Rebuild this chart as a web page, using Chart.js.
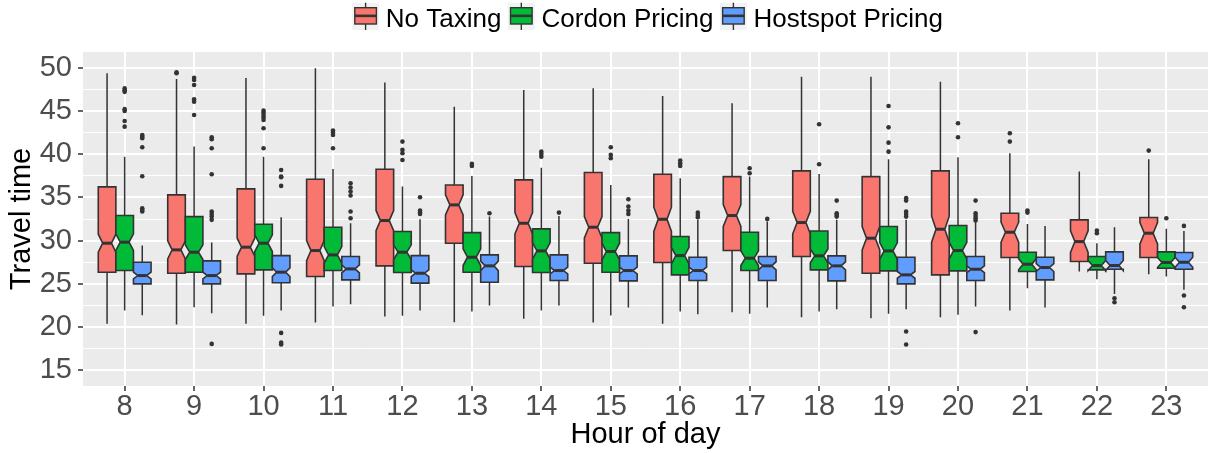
<!DOCTYPE html>
<html><head><meta charset="utf-8">
<script src="https://cdn.jsdelivr.net/npm/chart.js@4.4.1/dist/chart.umd.min.js"></script>
<style>html,body{margin:0;padding:0;background:#fff;}canvas{display:block;}</style>
</head><body>
<canvas id="c" width="1208" height="453"></canvas>
<script>
const HOURS = ['8','9','10','11','12','13','14','15','16','17','18','19','20','21','22','23'];
const SERIES_NAMES = ['No Taxing', 'Cordon Pricing', 'Hostspot Pricing'];
const SERIES_COLORS = ['#F8766D', '#00BA38', '#619CFF'];
const Y_TICKS = [15, 20, 25, 30, 35, 40, 45, 50];
const Y_MINOR = [17.5, 22.5, 27.5, 32.5, 37.5, 42.5, 47.5];

// No Taxing
const NT_LOW   = [20.38,20.30,20.38,20.53,21.23,20.57,20.96,20.53,20.38,21.73,21.15,21.03,21.15,21.92,26.43,26.12];
const NT_Q1    = [26.35,26.23,26.16,25.85,27.08,29.70,27.00,27.39,27.47,28.85,28.16,26.23,26.04,28.04,27.58,28.04];
const NT_MED   = [29.70,28.93,29.24,28.85,32.32,34.13,32.01,31.55,32.47,32.90,32.09,30.28,31.32,30.97,29.89,30.86];
const NT_Q3    = [36.21,35.29,35.98,37.10,38.25,36.44,37.02,37.87,37.67,37.40,38.06,37.40,38.06,33.17,32.40,32.67];
const NT_HIGH  = [49.35,48.69,48.81,49.92,48.27,45.49,47.42,47.61,46.73,45.88,48.96,48.96,48.38,40.10,37.98,39.41];
const NT_NOTCH = [1.04,1.04,1.04,1.16,1.16,1.16,1.23,1.23,1.40,1.27,1.30,1.35,1.50,1.16,1.25,1.23];
const NT_OUT   = [[],[49.46,49.35],[],[],[],[],[],[],[],[],[],[],[],[42.41,41.45],[],[40.41]];

// Cordon Pricing
const CP_LOW   = [21.92,22.30,21.30,22.38,21.30,21.80,21.92,21.34,21.80,21.53,21.80,21.53,21.42,24.50,25.54,25.85];
const CP_Q1    = [26.54,26.35,26.62,26.54,26.31,26.35,26.31,26.35,26.04,26.54,26.62,26.50,26.50,26.43,26.62,26.81];
const CP_MED   = [29.82,28.66,29.70,28.35,28.66,28.08,28.81,28.74,28.27,27.97,28.24,28.81,28.85,27.27,27.12,27.47];
const CP_Q3    = [32.90,32.78,31.90,31.55,31.05,30.93,31.36,30.93,30.47,30.97,31.12,31.63,31.74,28.66,28.16,28.70];
const CP_HIGH  = [39.71,40.87,39.71,38.29,36.25,37.48,38.44,36.44,37.21,37.40,37.71,39.41,39.64,31.93,29.70,31.36];
const CP_NOTCH = [0.96,0.85,0.96,0.96,0.85,0.96,0.96,0.96,0.96,0.85,0.80,0.96,0.96,0.65,0.58,0.58];
const CP_OUT   = [
  [47.6,47.4,47.2,45.2,45.0,43.84,43.18],
  [48.84,48.57,48.0,46.34,46.07,44.53],
  [45.03,44.8,44.53,44.26,43.95,42.99,40.68],
  [42.72,42.49,42.22,40.68],
  [41.45,40.49,40.1,39.33],
  [38.87,38.64],
  [40.29,40.02,39.71],
  [40.79,39.91,39.52],
  [39.25,38.94,38.64],
  [38.37,37.79],
  [43.45,38.83],
  [45.57,43.10,41.33,40.29],
  [43.57,41.95],
  [33.47,33.24],
  [31.16,30.86],
  [32.59]
];

// Hostspot Pricing
const HP_LOW   = [21.38,21.61,21.92,22.65,21.92,22.50,22.50,22.27,21.49,22.27,22.07,22.07,22.38,22.27,23.84,24.31];
const HP_Q1    = [25.00,25.00,25.12,25.46,25.08,25.19,25.39,25.35,25.39,25.39,25.35,25.00,25.39,25.46,26.69,26.69];
const HP_MED   = [25.96,25.96,26.35,26.73,26.23,27.08,26.54,26.54,26.54,27.08,27.08,26.04,26.69,26.89,27.12,27.50];
const HP_Q3    = [27.50,27.66,28.27,28.16,28.27,28.35,28.35,28.24,28.08,28.16,28.24,28.08,28.16,28.08,28.70,28.62];
const HP_HIGH  = [29.43,29.78,32.70,32.01,32.47,32.78,32.86,32.51,32.40,32.20,32.40,32.40,32.40,31.70,31.55,31.12];
const HP_NOTCH = [0.39,0.39,0.50,0.46,0.39,0.55,0.39,0.39,0.39,0.46,0.46,0.39,0.39,0.46,0.58,0.58];
const HP_OUT   = [
  [42.22,42.03,41.83,40.79,37.44,33.74,33.55,33.36],
  [41.95,41.72,40.68,37.67,33.36,33.09,32.78,32.40,18.06],
  [38.17,37.40,37.33,36.33,19.33,18.2,18.0],
  [36.63,36.13,35.67,35.21,33.36,32.59],
  [35.02,33.47,33.24,33.09],
  [33.17],
  [33.24],
  [34.78,33.94,33.47,33.09],
  [33.24,32.97,32.70],
  [32.51],
  [34.63,33.17,32.97,32.78],
  [34.91,34.63,33.36,33.09,32.78,19.49,17.98],
  [34.63,33.17,32.86,32.59,32.32,19.42],
  [],
  [23.34,22.88],
  [31.70,23.65,22.30]
];

const SERIES = [
  {low: NT_LOW, q1: NT_Q1, med: NT_MED, q3: NT_Q3, high: NT_HIGH, notch: NT_NOTCH, out: NT_OUT},
  {low: CP_LOW, q1: CP_Q1, med: CP_MED, q3: CP_Q3, high: CP_HIGH, notch: CP_NOTCH, out: CP_OUT},
  {low: HP_LOW, q1: HP_Q1, med: HP_MED, q3: HP_Q3, high: HP_HIGH, notch: HP_NOTCH, out: HP_OUT}
];

const FONT = '"Liberation Sans", Arial, Helvetica, sans-serif';
Chart.defaults.font.family = FONT;
const LINE = '#333333';

const boxPlugin = {
  id: 'boxplots',
  beforeDraw(chart) {
    const {ctx, chartArea: a} = chart;
    ctx.save();
    ctx.fillStyle = '#FFFFFF';
    ctx.fillRect(0, 0, chart.width, chart.height);
    ctx.fillStyle = '#EBEBEB';
    ctx.fillRect(a.left, a.top, a.right - a.left, a.bottom - a.top);
    ctx.restore();
  },
  afterDatasetsDraw(chart) {
    const ctx = chart.ctx;
    const ys = chart.scales.y;
    const P = v => ys.getPixelForValue(v);
    ctx.save();
    SERIES.forEach((s, di) => {
      const meta = chart.getDatasetMeta(di);
      meta.data.forEach((bar, i) => {
        const {x, width} = bar.getProps(['x', 'width'], true);
        const l = x - width / 2, r = x + width / 2, ins = width * 0.25;
        const yq1 = P(s.q1[i]), yq3 = P(s.q3[i]), ym = P(s.med[i]);
        const yn1 = P(s.med[i] - s.notch[i]), yn2 = P(s.med[i] + s.notch[i]);
        ctx.strokeStyle = LINE; ctx.lineWidth = 1.5; ctx.lineCap = 'butt';
        ctx.beginPath();
        ctx.moveTo(x, yq3); ctx.lineTo(x, P(s.high[i]));
        ctx.moveTo(x, yq1); ctx.lineTo(x, P(s.low[i]));
        ctx.stroke();
        ctx.beginPath();
        ctx.moveTo(l, yq3); ctx.lineTo(r, yq3); ctx.lineTo(r, yn2);
        ctx.lineTo(r - ins, ym); ctx.lineTo(r, yn1); ctx.lineTo(r, yq1);
        ctx.lineTo(l, yq1); ctx.lineTo(l, yn1); ctx.lineTo(l + ins, ym);
        ctx.lineTo(l, yn2); ctx.closePath();
        ctx.fillStyle = SERIES_COLORS[di]; ctx.fill();
        ctx.lineJoin = 'miter'; ctx.lineWidth = 1.6; ctx.stroke();
        ctx.lineWidth = 3;
        ctx.beginPath(); ctx.moveTo(l + ins, ym); ctx.lineTo(r - ins, ym); ctx.stroke();
        ctx.fillStyle = LINE;
        s.out[i].forEach(v => {
          ctx.beginPath(); ctx.arc(x, P(v), 2.3, 0, Math.PI * 2); ctx.fill();
        });
      });
    });
    ctx.restore();
  },
  afterDraw(chart) {
    const ctx = chart.ctx, a = chart.chartArea;
    ctx.save();
    ctx.font = '26px ' + FONT;
    const keyW = 27, gapT = 6.7, gapK = 6.4;
    const widths = SERIES_NAMES.map(t => ctx.measureText(t).width);
    const total = widths.reduce((s, w) => s + w, 0) + 3 * (keyW + gapT) + 2 * gapK;
    let x = (a.left + a.right) / 2 + 2 - total / 2;
    SERIES_NAMES.forEach((name, i) => {
      ctx.fillStyle = '#F2F2F2';
      ctx.fillRect(x, 2.7, keyW, 27.3);
      ctx.strokeStyle = LINE; ctx.lineWidth = 1.4;
      ctx.beginPath(); ctx.moveTo(x + keyW / 2, 2.7); ctx.lineTo(x + keyW / 2, 30); ctx.stroke();
      ctx.fillStyle = SERIES_COLORS[i];
      ctx.fillRect(x + 2.7, 7.7, keyW - 5.4, 16.3);
      ctx.strokeRect(x + 2.7, 7.7, keyW - 5.4, 16.3);
      ctx.lineWidth = 2.6;
      ctx.beginPath(); ctx.moveTo(x + 2.7, 15.85); ctx.lineTo(x + keyW - 2.7, 15.85); ctx.stroke();
      ctx.fillStyle = '#000000'; ctx.textBaseline = 'alphabetic'; ctx.textAlign = 'left';
      ctx.fillText(name, x + keyW + gapT, 26.7);
      x += keyW + gapT + widths[i] + gapK;
    });
    ctx.restore();
  }
};

new Chart(document.getElementById('c'), {
  type: 'bar',
  data: {
    datasets: SERIES_NAMES.map((name, di) => ({
      label: name,
      data: HOURS.map((h, i) => ({x: i, y: [SERIES[di].q1[i], SERIES[di].q3[i]]})),
      backgroundColor: 'rgba(0,0,0,0)',
      borderWidth: 0,
      categoryPercentage: 0.76,
      barPercentage: 1.0
    }))
  },
  options: {
    responsive: false,
    animation: false,
    events: [],
    layout: {padding: {top: 52, left: 0, right: 0, bottom: 0}},
    plugins: {legend: {display: false}, tooltip: {enabled: false}},
    scales: {
      x: {
        type: 'linear',
        offset: false,
        min: -0.6, max: 15.6,
        afterBuildTicks: sc => { sc.ticks = HOURS.map((h, i) => ({value: i})); },
        afterFit: sc => { sc.height = 67; },
        ticks: {
          autoSkip: false, maxRotation: 0, padding: -1,
          color: '#4D4D4D', font: {size: 29},
          callback: v => HOURS[Math.round(v)]
        },
        grid: {offset: false, color: '#FFFFFF', lineWidth: 2, tickLength: 5, tickColor: LINE, tickWidth: 1.5},
        border: {display: false},
        title: {display: true, text: 'Hour of day', color: '#000000', font: {size: 29}, padding: {top: 0, bottom: 0.6}}
      },
      y: {
        type: 'linear',
        min: 13.19, max: 51.81,
        afterBuildTicks: sc => { sc.ticks = Y_TICKS.concat(Y_MINOR).sort((a, b) => a - b).map(v => ({value: v})); },
        afterFit: sc => { sc.width = 83; },
        ticks: {
          autoSkip: false, padding: 6,
          color: '#4D4D4D', font: {size: 29},
          callback: v => Y_TICKS.includes(v) ? String(v) : ''
        },
        grid: {
          color: '#FFFFFF',
          lineWidth: c => (c.tick && Y_TICKS.includes(c.tick.value)) ? 2 : 1,
          tickLength: 5,
          tickColor: c => (c.tick && Y_TICKS.includes(c.tick.value)) ? LINE : 'rgba(0,0,0,0)',
          tickWidth: 1.5
        },
        border: {display: false},
        title: {display: true, text: 'Travel time', color: '#000000', font: {size: 29}, padding: {top: 4.9, bottom: 0}}
      }
    }
  },
  plugins: [boxPlugin]
});
</script>
</body></html>
